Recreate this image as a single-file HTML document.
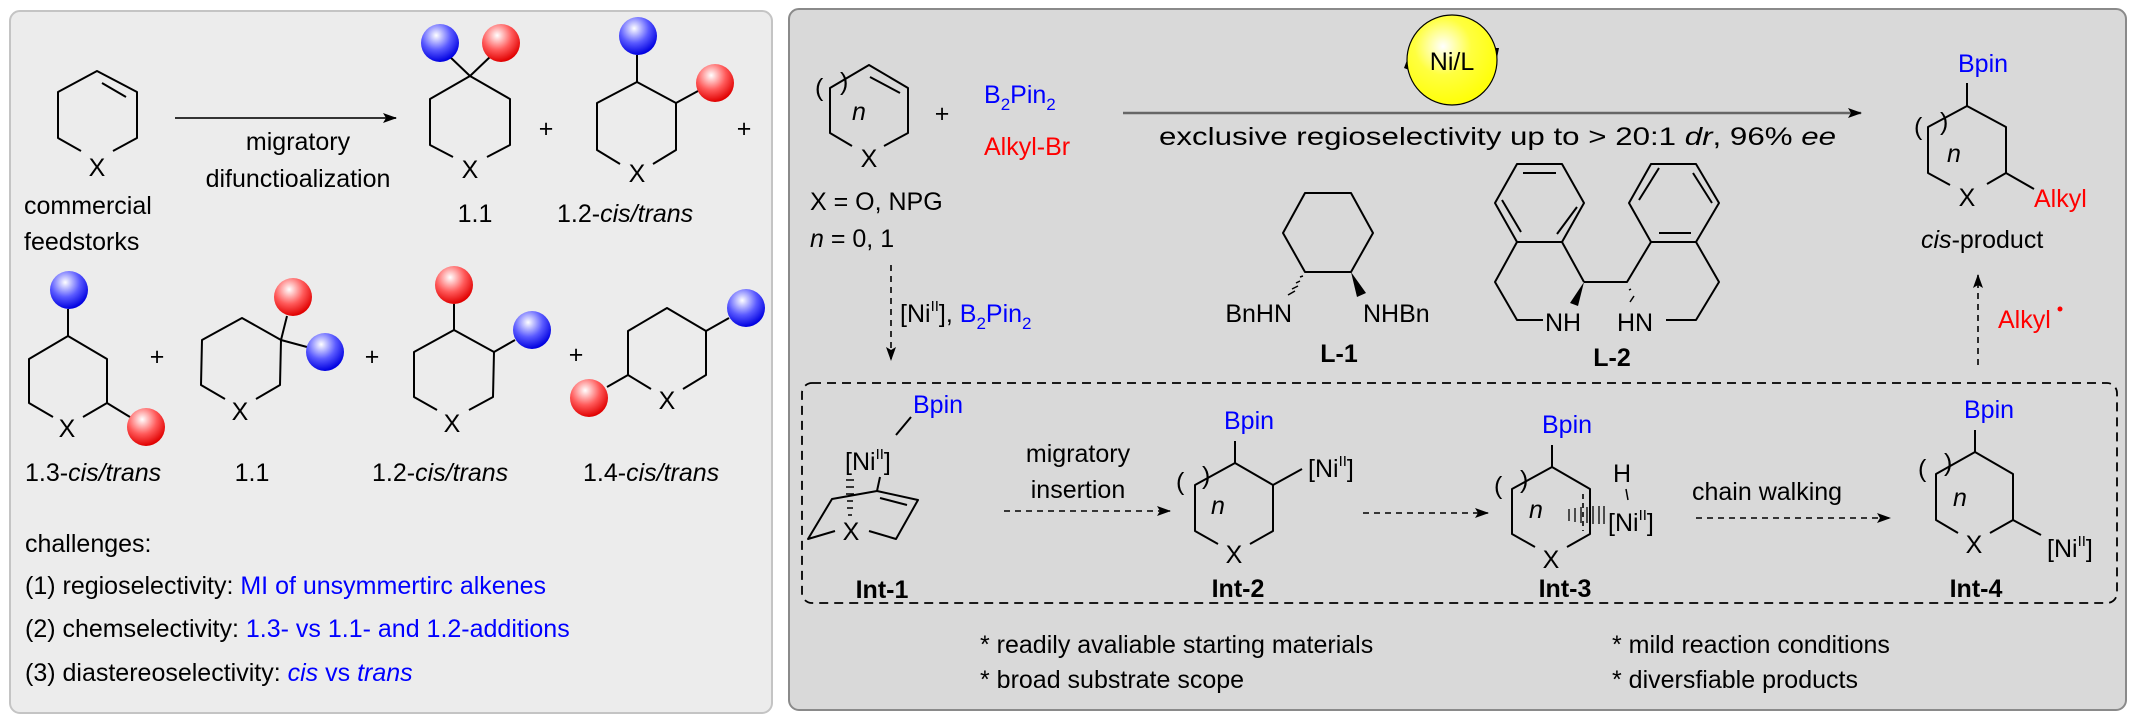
<!DOCTYPE html>
<html><head><meta charset="utf-8"><style>
html,body{margin:0;padding:0;background:#fff;}
svg{display:block;}
text{font-family:"Liberation Sans",Arial,sans-serif;font-size:25px;fill:#000;}
.b{fill:#0000ff}.r{fill:#ff0000}.bd{font-weight:bold}
.s{stroke:#000;stroke-width:2;fill:none;stroke-linejoin:round}
.d{stroke:#000;stroke-width:1.6;fill:none;stroke-dasharray:6 5}
</style></head><body>
<svg width="2136" height="725" viewBox="0 0 2136 725" xmlns="http://www.w3.org/2000/svg">
<defs>
<radialGradient id="gb" cx="0.4" cy="0.3" r="0.7"><stop offset="0" stop-color="#fff"/><stop offset="0.55" stop-color="#5a5aff"/><stop offset="1" stop-color="#0000e0"/></radialGradient>
<radialGradient id="gr" cx="0.4" cy="0.3" r="0.7"><stop offset="0" stop-color="#fff"/><stop offset="0.55" stop-color="#ff5a5a"/><stop offset="1" stop-color="#e00000"/></radialGradient>
<radialGradient id="gy" cx="0.4" cy="0.35" r="0.7"><stop offset="0" stop-color="#fff"/><stop offset="0.45" stop-color="#ffff40"/><stop offset="1" stop-color="#ffff00"/></radialGradient>
<marker id="ah" markerWidth="14" markerHeight="10" refX="13" refY="5" orient="auto" markerUnits="userSpaceOnUse"><path d="M0,0 L14,5 L0,10 L3,5 Z" fill="#000"/></marker>
</defs>

<rect x="10" y="11" width="762" height="702" rx="10" fill="#ececec" stroke="#c4c4c4" stroke-width="2"/>
<rect x="789" y="9" width="1337" height="701" rx="10" fill="#d9d9d9" stroke="#8a8a8a" stroke-width="2"/>

<path class="s" d="M81,151 L58,138 L58,92 L97,71 L137,92 L137,138 L113,151 M102,83 L126,97"/>
<text x="97" y="176" text-anchor="middle">X</text>
<text x="24" y="214">commercial</text>
<text x="24" y="250">feedstorks</text>
<line x1="175" y1="118" x2="396" y2="118" stroke="#333" stroke-width="2" marker-end="url(#ah)"/>
<text x="298" y="150" text-anchor="middle">migratory</text>
<text x="298" y="187" text-anchor="middle">difunctioalization</text>

<path class="s" d="M453,157 L430,145 L430,99 L470,76 L510,99 L510,145 L487,157 M470,76 L448,55 M470,76 L492,55"/>
<text x="470" y="178" text-anchor="middle">X</text>
<ellipse cx="440" cy="43" rx="19" ry="19" fill="url(#gb)"/>
<ellipse cx="501" cy="43" rx="19" ry="19" fill="url(#gr)"/>
<text x="475" y="222" text-anchor="middle">1.1</text>
<text x="546" y="137" text-anchor="middle">+</text>

<path class="s" d="M620,164 L597,150 L597,103 L637,82 L676,103 L676,150 L653,164 M637,82 L637,55 M676,103 L698,91"/>
<text x="637" y="182" text-anchor="middle">X</text>
<ellipse cx="638" cy="36" rx="19" ry="19" fill="url(#gb)"/>
<ellipse cx="715" cy="83" rx="19" ry="19" fill="url(#gr)"/>
<text x="557" y="222">1.2-<tspan font-style="italic">cis/trans</tspan></text>
<text x="744" y="137" text-anchor="middle">+</text>

<path class="s" d="M53,417 L29,403 L29,359 L68,336 L107,359 L107,403 L83,417 M68,336 L68,309 M107,403 L130,417"/>
<text x="67" y="437" text-anchor="middle">X</text>
<ellipse cx="69" cy="290" rx="19" ry="19" fill="url(#gb)"/>
<ellipse cx="146" cy="427" rx="19" ry="19" fill="url(#gr)"/>
<text x="25" y="481">1.3-<tspan font-style="italic">cis/trans</tspan></text>
<text x="157" y="365" text-anchor="middle">+</text>

<path class="s" d="M225,399 L201,385 L202,340 L242,318 L281,340 L280,385 L256,399 M281,340 L287,316 M281,340 L307,347"/>
<text x="240" y="420" text-anchor="middle">X</text>
<ellipse cx="293" cy="297" rx="19" ry="19" fill="url(#gr)"/>
<ellipse cx="325" cy="352" rx="19" ry="19" fill="url(#gb)"/>
<text x="252" y="481" text-anchor="middle">1.1</text>
<text x="372" y="365" text-anchor="middle">+</text>

<path class="s" d="M437,410 L414,397 L414,352 L454,330 L494,352 L493,397 L469,410 M454,330 L454,304 M494,352 L515,340"/>
<text x="452" y="432" text-anchor="middle">X</text>
<ellipse cx="454" cy="285" rx="19" ry="19" fill="url(#gr)"/>
<ellipse cx="532" cy="330" rx="19" ry="19" fill="url(#gb)"/>
<text x="372" y="481">1.2-<tspan font-style="italic">cis/trans</tspan></text>
<text x="576" y="363" text-anchor="middle">+</text>

<path class="s" d="M651,389 L628,375 L628,331 L667,308 L706,331 L706,375 L683,389 M706,331 L729,318 M628,375 L607,387"/>
<text x="667" y="409" text-anchor="middle">X</text>
<ellipse cx="746" cy="308" rx="19" ry="19" fill="url(#gb)"/>
<ellipse cx="589" cy="398" rx="19" ry="19" fill="url(#gr)"/>
<text x="583" y="481">1.4-<tspan font-style="italic">cis/trans</tspan></text>

<text x="25" y="552">challenges:</text>
<text x="25" y="594">(1) regioselectivity: <tspan class="b">MI of unsymmertirc alkenes</tspan></text>
<text x="25" y="637">(2) chemselectivity: <tspan class="b">1.3- vs 1.1- and 1.2-additions</tspan></text>
<text x="25" y="681">(3) diastereoselectivity: <tspan class="b" font-style="italic">cis</tspan><tspan class="b"> vs </tspan><tspan class="b" font-style="italic">trans</tspan></text>

<path class="s" d="M852,146 L830,133 L830,88 L869,65 L908,88 L908,133 L884,146 M870,77 L900,93"/>
<text x="869" y="167" text-anchor="middle">X</text>
<text x="815" y="96" font-size="22">(</text>
<text x="840" y="90" font-size="22">)</text>
<text x="852" y="120" font-size="20" font-style="italic">n</text>
<text x="942" y="122" text-anchor="middle">+</text>
<text x="984" y="103" class="b">B<tspan font-size="17" dy="7">2</tspan><tspan dy="-7">Pin</tspan><tspan font-size="17" dy="7">2</tspan></text>
<text x="984" y="155" class="r">Alkyl-Br</text>
<text x="810" y="210">X = O, NPG</text>
<text x="810" y="247"><tspan font-style="italic">n</tspan> = 0, 1</text>
<line x1="891" y1="265" x2="891" y2="360" class="d" stroke-width="1.2" stroke-dasharray="5 4" marker-end="url(#ah)"/>
<text x="900" y="322">[Ni<tspan font-size="15" dy="-11">II</tspan><tspan dy="11">], </tspan><tspan class="b">B<tspan font-size="17" dy="7">2</tspan><tspan dy="-7">Pin</tspan><tspan font-size="17" dy="7">2</tspan></tspan></text>

<line x1="1123" y1="113" x2="1861" y2="113" stroke="#666" stroke-width="2.5" marker-end="url(#ah)"/>
<path d="M1409,70 L1407,60 L1404,68 Z" fill="#000"/>
<path d="M1495,48 L1497,58 L1499,48 Z" fill="#000"/>
<circle cx="1452" cy="60" r="45" fill="url(#gy)" stroke="#000" stroke-width="1.2"/>
<text x="1452" y="70" text-anchor="middle" font-size="27">Ni/L</text>
<text x="1159" y="145" textLength="677" lengthAdjust="spacingAndGlyphs" font-size="26">exclusive regioselectivity up to &gt; 20:1 <tspan font-style="italic">dr</tspan>, 96% <tspan font-style="italic">ee</tspan></text>

<path class="s" d="M1305,193 L1351,193 L1373,233 L1351,272 L1305,272 L1283,233 Z"/>
<path d="M1351,272 L1357,297 L1366,293 Z" fill="#000"/>
<path d="M1303,276 L1300,277 M1300,281 L1296,283 M1298,286 L1292,289 M1295,291 L1288,295" stroke="#000" stroke-width="1.5"/>
<text x="1292" y="322" text-anchor="end">BnHN</text>
<text x="1363" y="322">NHBn</text>
<text x="1339" y="362" text-anchor="middle" class="bd">L-1</text>

<path class="s" d="M1517,164 L1562,164 L1584,203 L1562,242 L1517,242 L1495,203 Z M1523,173 L1556,173 M1577,207 L1557,234 M1502,200 L1521,232"/>
<path class="s" d="M1562,242 L1584,282 M1517,242 L1495,282 L1517,320 L1543,320 M1584,282 L1627,282 L1651,242"/>
<path d="M1584,282 L1570,303 L1578,306 Z" fill="#000"/>
<path d="M1631,289 L1629,290 M1634,296 L1630,302" stroke="#000" stroke-width="1.5"/>
<text x="1545" y="331">NH</text>
<path class="s" d="M1651,164 L1696,164 L1719,203 L1696,242 L1651,242 L1629,203 Z M1639,200 L1659,168 M1693,173 L1712,203 M1659,233 L1691,233"/>
<path class="s" d="M1696,242 L1719,282 L1696,320 L1666,320"/>
<text x="1617" y="331">HN</text>
<text x="1612" y="366" text-anchor="middle" class="bd">L-2</text>

<text x="1958" y="72" class="b">Bpin</text>
<path class="s" d="M1950,185 L1928,173 L1928,127 L1967,106 L2006,127 L2006,173 L1987,184 M1967,106 L1967,83 M2006,173 L2034,189"/>
<text x="1967" y="206" text-anchor="middle">X</text>
<text x="1914" y="135" font-size="22">(</text>
<text x="1940" y="130" font-size="22">)</text>
<text x="1947" y="162" font-size="20" font-style="italic">n</text>
<text x="2034" y="207" class="r">Alkyl</text>
<text x="1921" y="248"><tspan font-style="italic">cis</tspan>-product</text>
<line x1="1978" y1="365" x2="1978" y2="275" class="d" stroke-width="1.2" stroke-dasharray="5 4" marker-end="url(#ah)"/>
<text x="1998" y="328" class="r">Alkyl</text>
<circle cx="2060" cy="309" r="2.5" fill="#ff0000"/>

<rect x="802" y="383" width="1315" height="220" rx="10" fill="none" stroke="#000" stroke-width="1.8" stroke-dasharray="9 6"/>

<text x="913" y="413" class="b">Bpin</text>
<line x1="911" y1="417" x2="896" y2="435" stroke="#000" stroke-width="2"/>
<text x="845" y="470">[Ni<tspan font-size="15" dy="-11">II</tspan><tspan dy="11">]</tspan></text>
<path d="M846,480 L854,480 M846,487 L854,487 M846,494 L854,494 M847,501 L853,501 M847,508 L853,508 M848,515 L852,515" stroke="#000" stroke-width="1.5"/>
<path class="s" d="M880,477 L877,491 M835,531 L808,539 L832,499 L877,491 L918,500 L896,539 L869,531 M880,498 L907,505"/>
<text x="851" y="540" text-anchor="middle">X</text>
<text x="882" y="598" text-anchor="middle" class="bd">Int-1</text>

<text x="1078" y="462" text-anchor="middle">migratory</text>
<text x="1078" y="498" text-anchor="middle">insertion</text>
<line x1="1004" y1="511" x2="1170" y2="511" class="d" stroke-width="1.2" stroke-dasharray="5 4" marker-end="url(#ah)"/>

<text x="1224" y="429" class="b">Bpin</text>
<path class="s" d="M1218,544 L1195,531 L1195,485 L1235,463 L1273,485 L1273,531 L1250,544 M1235,463 L1235,441 M1273,485 L1302,469"/>
<text x="1234" y="563" text-anchor="middle">X</text>
<text x="1176" y="490" font-size="22">(</text>
<text x="1202" y="484" font-size="22">)</text>
<text x="1211" y="514" font-size="20" font-style="italic">n</text>
<text x="1308" y="477">[Ni<tspan font-size="15" dy="-11">II</tspan><tspan dy="11">]</tspan></text>
<text x="1238" y="597" text-anchor="middle" class="bd">Int-2</text>
<line x1="1363" y1="513" x2="1488" y2="513" class="d" stroke-width="1.2" stroke-dasharray="5 4" marker-end="url(#ah)"/>

<text x="1542" y="433" class="b">Bpin</text>
<path class="s" d="M1535,547 L1512,534 L1512,489 L1552,467 L1590,489 L1590,534 L1567,547 M1552,467 L1552,445"/>
<line x1="1583" y1="494" x2="1583" y2="531" stroke="#000" stroke-width="1.6" stroke-dasharray="5 4"/>
<path d="M1569,509 L1569,521 M1575,508 L1575,522 M1581,507 L1581,523 M1587,507 L1587,523 M1593,506 L1593,524 M1599,506 L1599,524 M1604,506 L1604,524" stroke="#000" stroke-width="1.3"/>
<text x="1551" y="568" text-anchor="middle">X</text>
<text x="1494" y="494" font-size="22">(</text>
<text x="1520" y="488" font-size="22">)</text>
<text x="1529" y="518" font-size="20" font-style="italic">n</text>
<text x="1613" y="482">H</text>
<line x1="1626" y1="489" x2="1628" y2="500" stroke="#000" stroke-width="1.5"/>
<text x="1608" y="531" fill="#000" style="paint-order:stroke" stroke="#d9d9d9" stroke-width="3">[Ni<tspan font-size="15" dy="-11">II</tspan><tspan dy="11">]</tspan></text>
<text x="1565" y="597" text-anchor="middle" class="bd">Int-3</text>

<text x="1692" y="500">chain walking</text>
<line x1="1696" y1="518" x2="1890" y2="518" class="d" stroke-width="1.2" stroke-dasharray="5 4" marker-end="url(#ah)"/>

<text x="1964" y="418" class="b">Bpin</text>
<path class="s" d="M1958,533 L1936,520 L1936,474 L1975,452 L2013,474 L2013,520 L1990,533 M1975,452 L1975,430 M2013,520 L2041,535"/>
<text x="1974" y="553" text-anchor="middle">X</text>
<text x="1918" y="477" font-size="22">(</text>
<text x="1944" y="471" font-size="22">)</text>
<text x="1953" y="506" font-size="20" font-style="italic">n</text>
<text x="2047" y="557">[Ni<tspan font-size="15" dy="-11">II</tspan><tspan dy="11">]</tspan></text>
<text x="1976" y="597" text-anchor="middle" class="bd">Int-4</text>

<text x="980" y="653">* readily avaliable starting materials</text>
<text x="980" y="688">* broad substrate scope</text>
<text x="1612" y="653">* mild reaction conditions</text>
<text x="1612" y="688">* diversfiable products</text>
</svg>
</body></html>
